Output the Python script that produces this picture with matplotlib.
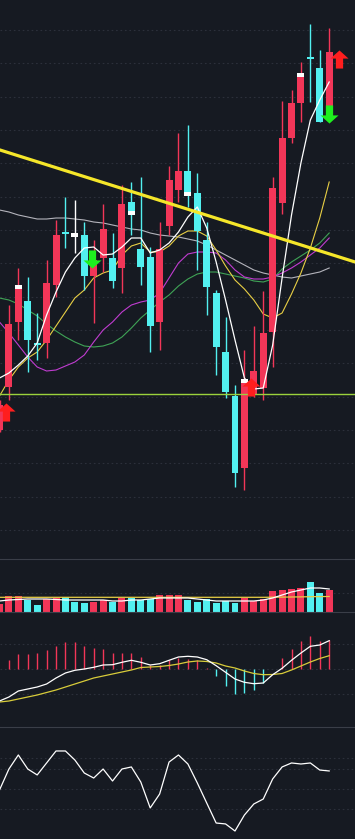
import numpy as np
import matplotlib.pyplot as plt
from matplotlib.path import Path

# daily bars (price)
opens = [6.75, 7.825, 9.45, 9.975, 8.95, 8.925, 10.375, 11.725, 11.625, 11.625,
         10.6, 11.05, 11.05, 10.8, 12.45, 11.275, 11.075, 9.45, 11.85, 12.75,
         13.225, 12.675, 11.5, 10.175, 8.7, 7.6, 5.8, 7.625, 7.8, 9.2,
         12.425, 14.05, 14.925, 16.075, 15.8, 14.625]
closes = [7.375, 9.4, 10.325, 9.0, 8.9, 10.425, 11.625, 11.675, 11.625, 10.6,
          11.0, 11.775, 10.475, 12.4, 12.175, 10.825, 9.35, 11.275, 13.0, 13.225,
          12.65, 11.725, 10.325, 8.825, 7.7, 5.675, 7.975, 8.225, 9.175, 12.8,
          14.05, 14.925, 15.625, 16.025, 14.45, 16.2]
highs = [7.5, 9.875, 10.8, 10.575, 9.675, 11.0, 12.0, 12.575, 12.5, 11.95,
         11.5, 12.4, 11.675, 12.875, 12.95, 13.075, 11.325, 11.95, 13.35, 14.175,
         14.375, 13.175, 11.95, 10.25, 9.575, 7.875, 8.75, 9.35, 10.225, 13.075,
         14.975, 15.25, 15.95, 16.9, 16.25, 16.8]
lows = [6.7, 7.5, 9.0, 8.2, 8.5, 8.55, 10.075, 11.3, 11.175, 10.25,
        9.425, 10.7, 10.3, 10.175, 11.625, 10.375, 8.7, 8.75, 11.625, 12.45,
        12.325, 10.75, 9.625, 8.125, 7.55, 5.325, 5.25, 7.575, 7.5, 8.325,
        12.15, 13.925, 14.45, 14.95, 14.45, 14.625]

ma5 = [8.05, 8.175, 8.375, 8.6, 8.925, 9.625, 10.2, 10.7, 11.05, 11.3,
       11.325, 11.125, 11.15, 11.325, 11.55, 11.55, 11.175, 11.25, 11.425, 11.7,
       12.075, 12.325, 11.8, 10.95, 10.0, 9.0, 8.05, 7.775, 7.8, 8.875,
       10.55, 12.125, 13.425, 14.5, 15.0, 15.45]
ma10 = [7.6, 8.0, 8.325, 8.55, 8.7, 9.0, 9.35, 9.7, 10.05, 10.25,
        10.55, 10.675, 10.75, 11.125, 11.35, 11.425, 11.2, 11.2, 11.35, 11.6,
        11.725, 11.725, 11.6, 11.25, 10.85, 10.5, 10.275, 10.0, 9.65, 9.55,
        9.675, 10.15, 10.675, 11.3, 12.05, 12.95]
ma20 = [9.45, 9.175, 8.875, 8.575, 8.325, 8.225, 8.25, 8.35, 8.45, 8.625,
        8.95, 9.25, 9.45, 9.7, 9.875, 9.95, 10.0, 10.175, 10.55, 10.925,
        11.15, 11.2, 11.2, 11.175, 11.0, 10.75, 10.575, 10.525, 10.525, 10.575,
        10.675, 10.8, 10.95, 11.125, 11.3, 11.55]
ma30 = [10.05, 10.0, 9.9, 9.75, 9.6, 9.4, 9.225, 9.075, 8.95, 8.85,
        8.825, 8.85, 8.925, 9.075, 9.3, 9.55, 9.75, 9.95, 10.125, 10.35,
        10.525, 10.65, 10.7, 10.7, 10.65, 10.6, 10.55, 10.475, 10.45, 10.525,
        10.775, 10.95, 11.1, 11.25, 11.425, 11.675]
ma60 = [12.25, 12.2, 12.125, 12.075, 12.025, 12.025, 12.05, 12.05, 12.025, 12.0,
        11.95, 11.925, 11.875, 11.825, 11.775, 11.75, 11.675, 11.625, 11.6, 11.575,
        11.525, 11.475, 11.375, 11.25, 11.125, 11.0, 10.875, 10.75, 10.675, 10.625,
        10.575, 10.55, 10.6, 10.65, 10.7, 10.8]

# volume (10k lots)
volume = [8, 16, 16, 12, 7, 13, 14, 15, 10, 9, 10, 12, 10, 14, 14, 12, 13, 17,
          17, 17, 12, 10, 13, 9, 11, 9, 14, 11, 13, 21, 22, 23, 24, 30, 19, 22]
vol_ma5 = [11, 12, 12.5, 13, 13, 13, 12.5, 12, 12, 12, 12, 12, 11, 11, 12, 12, 13, 14,
           14, 14, 14, 13, 12, 11, 11, 11, 11, 11, 12, 14, 17, 20, 22, 24, 24, 23]
vol_ma10 = [14.7] * 29 + [14.8, 14.9, 15.0, 15.1, 15.3, 15.4, 15.5]

# MACD
dif = [-0.32, -0.28, -0.22, -0.20, -0.18, -0.15, -0.09, -0.04, -0.013, 0.0,
       0.017, 0.04, 0.043, 0.067, 0.087, 0.067, 0.04, 0.053, 0.087, 0.12,
       0.127, 0.12, 0.093, 0.033, -0.033, -0.10, -0.133, -0.147, -0.14, -0.057,
       0.007, 0.087, 0.16, 0.227, 0.24, 0.283]
dea = [-0.33, -0.32, -0.30, -0.28, -0.26, -0.235, -0.21, -0.18, -0.15, -0.12,
       -0.09, -0.07, -0.05, -0.03, -0.01, 0.015, 0.02, 0.025, 0.035, 0.05,
       0.07, 0.08, 0.075, 0.06, 0.03, 0.01, -0.02, -0.045, -0.057, -0.055,
       -0.045, -0.01, 0.03, 0.07, 0.105, 0.133]
macd_hist = [0.0, 0.093, 0.153, 0.153, 0.16, 0.193, 0.233, 0.267, 0.267, 0.233,
             0.21, 0.20, 0.16, 0.16, 0.16, 0.12, 0.04, 0.04, 0.087, 0.11,
             0.10, 0.087, 0.01, -0.07, -0.17, -0.25, -0.24, -0.21, -0.14, 0.005,
             0.11, 0.20, 0.28, 0.33, 0.28, 0.29]

# RSI
rsi = [49.0, 69.5, 83.2, 69.5, 63.7, 75.4, 87.1, 87.1, 78.3, 65.6,
       60.7, 69.5, 57.8, 69.5, 71.5, 56.8, 31.5, 45.1, 76.3, 83.2,
       74.4, 55.9, 36.3, 16.8, 15.9, 9.0, 24.6, 35.4, 40.2, 59.8,
       71.5, 75.4, 74.4, 75.4, 68.5, 67.6]

# signals
buy_x = [0.74, 26.75, 36.0]
buy_y = [7.2, 7.825, 16.025]
sell_x = [9.77, 35.0]
sell_y = [11.025, 14.65]
marked_days = [2, 8, 14, 20, 26, 32]
trend_pts = [(0, 13.754), (36, 11.08)]
support = 7.65

BG = '#161a22'
RED = '#f23658'
CYAN = '#52f0f0'
GRID = '#2c303b'
SEP = '#3a3e48'

W, H = 355, 839
fig = plt.figure(figsize=(W / 100, H / 100), dpi=100, facecolor=BG)


def panel(top, bottom):
    ax = fig.add_axes([0, 1 - bottom / H, 1, (bottom - top) / H], facecolor=BG)
    ax.set_xlim(0.053, 37.74)
    ax.set_xticks([])
    ax.set_yticks([])
    for s in ax.spines.values():
        s.set_visible(False)
    return ax


x = np.arange(len(opens))
o, c, h, l = map(np.array, (opens, closes, highs, lows))
colors = np.where(c > o, RED, np.where(c < o, CYAN, 'white'))

# main price panel
ax = panel(0, 545)
ax.set_ylim(3.875, 17.5)
for g in np.linspace(4.25, 16.75, 16):
    ax.axhline(g, color=GRID, lw=0.8, ls=(0, (1.5, 2.5)), zorder=0)

ax.plot(x, ma60, color='#b4b4bc', lw=0.8, zorder=2)
ax.plot(x, ma30, color='#3fa356', lw=0.8, zorder=2)
ax.plot(x, ma20, color='#c03cd0', lw=0.8, zorder=2)
ax.plot(x, ma10, color='#e8cf45', lw=0.8, zorder=2)

ax.vlines(x, l, h, colors=colors, lw=1, zorder=3)
body_h = np.maximum(np.abs(c - o), 0.05)
ax.bar(x, body_h, bottom=np.minimum(o, c) - np.where(np.abs(c - o) < 0.05, 0.025, 0),
       width=0.74, color=colors, zorder=4)
for i in marked_days:
    ax.bar(i, 0.1, bottom=c[i] - 0.05, width=0.74, color='white', zorder=5)

ax.plot(x, ma5, color='white', lw=0.9, zorder=6)
ax.axline(trend_pts[0], trend_pts[1], color='#f5e62a', lw=2.3, zorder=7)
ax.axhline(support, color='#9bd23c', lw=1, zorder=7)

up = Path([(0, 1), (1, 0.1), (0.4, 0.1), (0.4, -1), (-0.4, -1), (-0.4, 0.1), (-1, 0.1), (0, 1)])
down = Path([(0, -1), (1, -0.1), (0.4, -0.1), (0.4, 1), (-0.4, 1), (-0.4, -0.1), (-1, -0.1), (0, -1)])
ax.scatter(buy_x, buy_y, marker=up, s=170, color='#ff1e1e', zorder=8, linewidths=0)
ax.scatter(sell_x, sell_y, marker=down, s=170, color='#1ef01e', zorder=8, linewidths=0)

# volume panel
axv = panel(559, 612)
axv.set_ylim(0, 53)
for s in ('top', 'bottom'):
    axv.spines[s].set_visible(True)
    axv.spines[s].set_color(SEP)
axv.axhline(19, color=GRID, lw=0.8, ls=(0, (1.5, 2.5)), zorder=0)
vcol = np.where(c > o, RED, CYAN)
axv.bar(x, volume, width=0.74, color=vcol, zorder=2)
axv.plot(x, vol_ma10, color='#e8cf45', lw=0.9, zorder=3)
axv.plot(x, vol_ma5, color='white', lw=0.9, zorder=4)

# MACD panel
axm = panel(620, 720)
axm.set_ylim(-0.51, 0.49)
for g in (-0.25, 0, 0.25):
    axm.axhline(g, color=GRID, lw=0.8, ls=(0, (1.5, 2.5)), zorder=0)
hist = np.array(macd_hist)
axm.vlines(x, 0, hist, colors=np.where(hist > 0, RED, CYAN), lw=1, zorder=2)
axm.plot(x, dea, color='#d8cc3a', lw=0.9, zorder=3)
axm.plot(x, dif, color='white', lw=0.9, zorder=4)

# RSI panel
axr = panel(727, 839)
axr.set_ylim(1.2, 110.5)
axr.spines['top'].set_visible(True)
axr.spines['top'].set_color(SEP)
for g in (30, 50, 70, 80):
    axr.axhline(g, color=GRID, lw=0.8, ls=(0, (1.5, 2.5)), zorder=0)
axr.plot(x, rsi, color='white', lw=0.9)

fig.savefig('out.png', dpi=100, facecolor=BG)
